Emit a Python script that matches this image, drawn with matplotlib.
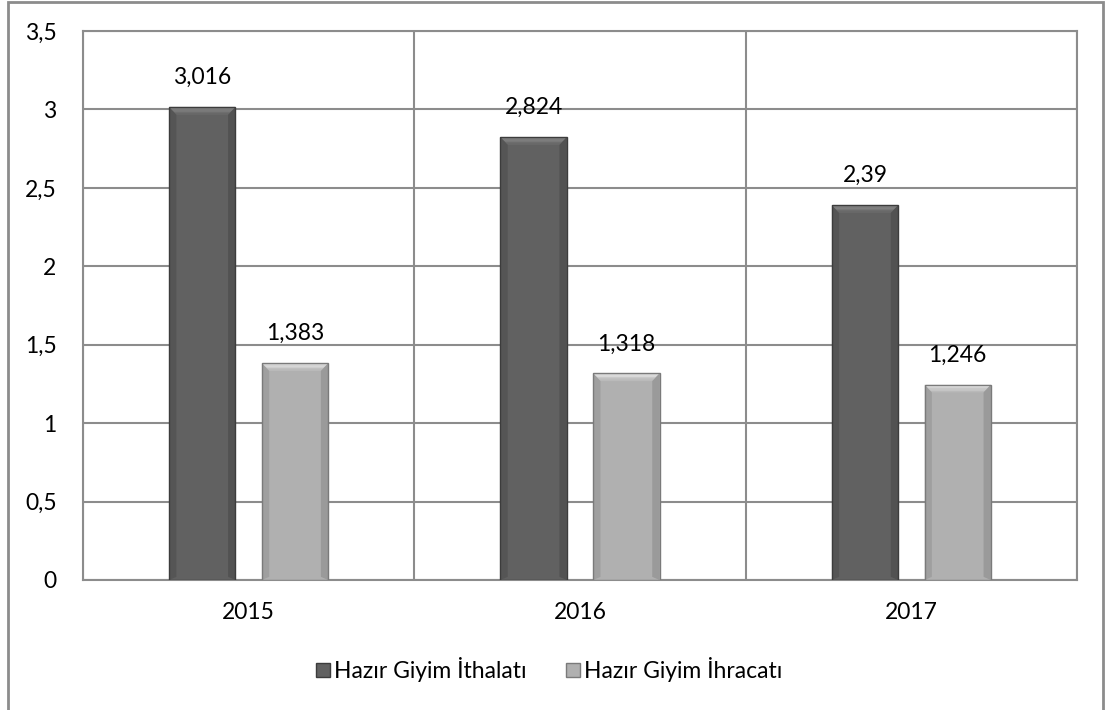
import matplotlib
matplotlib.use("Agg")
import matplotlib.pyplot as plt
from matplotlib.patches import Polygon, Rectangle
from matplotlib.lines import Line2D
import numpy as np

plt.rcParams['font.family'] = ['Lato', 'DejaVu Sans']

years = ["2015", "2016", "2017"]
ithalat = [3.016, 2.824, 2.39]
ihracat = [1.383, 1.318, 1.246]
ithalat_labels = ["3,016", "2,824", "2,39"]
ihracat_labels = ["1,383", "1,318", "1,246"]
yticks = [0, 0.5, 1, 1.5, 2, 2.5, 3, 3.5]
ytick_labels = ["0", "0,5", "1", "1,5", "2", "2,5", "3", "3,5"]
series_names = ["Hazır Giyim İthalatı", "Hazır Giyim İhracatı"]

FS = 16.5

fig = plt.figure(figsize=(11.05, 7.10), dpi=100)
ax = fig.add_axes([83/1105, 1 - 580/710, (1077-83)/1105, (580-31)/710])

x = np.arange(len(years))
w = 0.2
off = 0.14
grid_c = "#8c8c8c"

def bevel_bars(xs, vals, face, light, dark, zorder=3):
    bars = ax.bar(xs, vals, width=w, color=face, edgecolor='none', zorder=zorder)
    for b in bars:
        x0, y0 = b.get_x(), b.get_y()
        bw, bh = b.get_width(), b.get_height()
        dx = bw * 0.11
        dy = 0.05
        n = 6
        for i in range(n):
            t0, t1 = i / n, (i + 1) / n
            c = np.array(matplotlib.colors.to_rgb(light)) * (1 - t0) + np.array(matplotlib.colors.to_rgb(face)) * t0
            ax.add_patch(Polygon([[x0 + dx * t0, y0 + bh - dy * t0], [x0 + bw - dx * t0, y0 + bh - dy * t0],
                                  [x0 + bw - dx * t1, y0 + bh - dy * t1], [x0 + dx * t1, y0 + bh - dy * t1]],
                                 closed=True, facecolor=c, edgecolor='none', zorder=zorder + 1))
        ax.add_patch(Polygon([[x0, y0 + bh], [x0 + dx, y0 + bh - dy], [x0 + dx, y0 + 0.02], [x0, y0]],
                             closed=True, facecolor=dark, alpha=0.3, edgecolor='none', zorder=zorder + 1))
        ax.add_patch(Polygon([[x0 + bw, y0 + bh], [x0 + bw - dx, y0 + bh - dy], [x0 + bw - dx, y0 + 0.02], [x0 + bw, y0]],
                             closed=True, facecolor=dark, alpha=0.4, edgecolor='none', zorder=zorder + 1))
        ax.add_patch(Rectangle((x0, y0), bw, bh, facecolor='none', edgecolor=dark, linewidth=1.0, zorder=zorder + 2))
    return bars

bevel_bars(x - off, ithalat, "#616161", "#8f8f8f", "#3c3c3c")
bevel_bars(x + off, ihracat, "#b0b0b0", "#ececec", "#7a7a7a")

for xi, v, lab in zip(x - off, ithalat, ithalat_labels):
    ax.text(xi, v + 0.12, lab, ha='center', va='bottom', fontsize=FS, color='black')
for xi, v, lab in zip(x + off, ihracat, ihracat_labels):
    ax.text(xi, v + 0.12, lab, ha='center', va='bottom', fontsize=FS, color='black')

ax.set_xlim(-0.5, len(years) - 0.5)
ax.set_ylim(0, 3.5)
ax.set_yticks(yticks)
ax.set_yticklabels(ytick_labels, fontsize=FS)
ax.set_xticks(x)
ax.set_xticklabels(years, fontsize=FS)
ax.tick_params(axis='y', length=0, pad=19)
ax.tick_params(axis='x', length=0, pad=16)
for yv in yticks:
    ax.axhline(yv, color=grid_c, linewidth=1.5, zorder=1)
for xv in np.arange(-0.5, len(years), 1.0):
    ax.axvline(xv, color=grid_c, linewidth=1.5, zorder=1)
for s in ax.spines.values():
    s.set_color(grid_c)
    s.set_linewidth(1.5)

handles = [Line2D([], [], marker='s', linestyle='none', markersize=10, markerfacecolor="#616161", markeredgecolor="#3c3c3c"),
           Line2D([], [], marker='s', linestyle='none', markersize=10, markerfacecolor="#b0b0b0", markeredgecolor="#7a7a7a")]
fig.legend(handles, series_names, loc='center', bbox_to_anchor=(548/1105, 1 - 670/710), ncol=2, frameon=False,
           fontsize=FS, handletextpad=0.1, columnspacing=1.6, handlelength=0.8)

fig.add_artist(Rectangle((8/1105, -0.01), (1103-8)/1105, 1.0 - 1.5/710 + 0.01, transform=fig.transFigure,
                         facecolor='none', edgecolor=grid_c, linewidth=2))

fig.savefig("out.png", dpi=100)
